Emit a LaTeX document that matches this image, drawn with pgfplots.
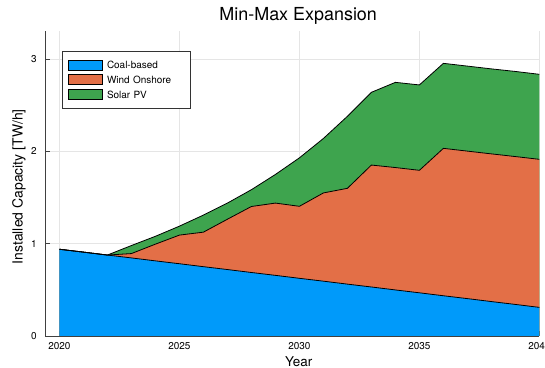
\documentclass[border=0pt]{standalone}
\usepackage{fontspec}
\setmainfont{TeX Gyre Heros}
\usepackage{pgfplots}
\usepackage{pgfplotstable}
\pgfplotsset{compat=1.18}

\definecolor{coalc}{RGB}{0,154,250}
\definecolor{windc}{RGB}{227,111,71}
\definecolor{solarc}{RGB}{62,164,78}

% installed capacity per technology [TW/h]
\pgfplotstableread{
year coal  wind  solar
2020 0.940 0.000 0.000
2021 0.909 0.000 0.000
2022 0.877 0.000 0.000
2023 0.846 0.047 0.087
2024 0.814 0.181 0.085
2025 0.783 0.310 0.097
2026 0.751 0.374 0.185
2027 0.720 0.545 0.175
2028 0.688 0.715 0.182
2029 0.657 0.783 0.310
2030 0.625 0.780 0.525
2031 0.594 0.956 0.590
2032 0.562 1.038 0.780
2033 0.531 1.321 0.788
2034 0.499 1.326 0.923
2035 0.468 1.327 0.925
2036 0.436 1.597 0.921
2037 0.405 1.598 0.921
2038 0.373 1.600 0.921
2039 0.342 1.602 0.922
2040 0.310 1.604 0.921
}\capacity
% stacked tops
\pgfplotstablecreatecol[expr={\thisrow{coal}+\thisrow{wind}}]{windtop}\capacity
\pgfplotstablecreatecol[expr={\thisrow{windtop}+\thisrow{solar}}]{solartop}\capacity

\pgfplotsset{
  layers/chart layers/.define layer set={axis background,axis grid,axis ticks,main,axis lines,axis tick labels,axis descriptions,axis foreground}{},
}

\begin{document}
\begin{tikzpicture}
\begin{axis}[
  set layers=chart layers,
  at={(45bp,32bp)}, anchor=south west,
  scale only axis, width=494.4bp, height=304.6bp,
  xmin=2019.4, xmax=2040, ymin=0, ymax=3.3,
  axis x line=bottom, axis y line=left,
  axis line style={-, draw=black!75, line width=0.8bp},
  xtick={2020,2025,...,2040}, ytick={0,1,2,3},
  tick align=inside, major tick length=5bp,
  tick style={draw=black!75, line width=0.6bp},
  grid=major, major grid style={draw=black!10, line width=0.6bp},
  /pgf/number format/assume math mode=true,
  x tick label style={/pgf/number format/1000 sep={}},
  tick label style={font=\fontsize{10}{12}\selectfont},
  xticklabel style={anchor=base, yshift=-13.3bp},
  yticklabel style={anchor=east, xshift=-4.8bp},
  title={Min-Max Expansion},
  title style={font=\fontsize{18}{21}\selectfont, at={(axis description cs:0.5,1)}, anchor=base, yshift=4.7bp, xshift=6bp},
  xlabel={Year},
  xlabel style={font=\fontsize{13.5}{16}\selectfont, at={(axis description cs:0.513,0)}, anchor=base, yshift=-30bp},
  ylabel={Installed Capacity [TW/h]},
  ylabel style={font=\fontsize{14}{16}\selectfont, at={(axis description cs:-0.0526,0.49)}, anchor=center},
  legend image code/.code={\draw[#1, draw=black, line width=0.6bp] (0bp,-1.4bp) rectangle (34bp,8.6bp);},
  legend style={at={(axis description cs:0.0338,0.9366)}, anchor=north west,
    draw=black!80, line width=0.8bp, font=\fontsize{10}{12}\selectfont,
    inner xsep=5.6bp, inner ysep=8.5bp, row sep=4.2bp, column sep=4.7bp,
    nodes={inner sep=0pt},
    /tikz/column 2/.style={nodes={text width=78bp, anchor=base west}}},
  legend cell align=left,
]
\addlegendimage{fill=coalc}
\addlegendimage{fill=windc}
\addlegendimage{fill=solarc}
\legend{Coal-based, Wind Onshore, Solar PV}

% filled areas, largest first
\addplot[fill=solarc, draw=none, forget plot] table[x=year, y=solartop]{\capacity} \closedcycle;
\addplot[fill=windc, draw=none, forget plot] table[x=year, y=windtop]{\capacity} \closedcycle;
\addplot[fill=coalc, draw=none, forget plot] table[x=year, y=coal]{\capacity} \closedcycle;
% outlines of each layer
\addplot[black, line width=0.8bp, line join=round, forget plot] table[x=year, y=solartop]{\capacity};
\addplot[black, line width=0.8bp, line join=round, forget plot] table[x=year, y=windtop]{\capacity};
\addplot[black, line width=0.8bp, line join=round, forget plot] table[x=year, y=coal]{\capacity};
\end{axis}
\pgfresetboundingbox
\path[use as bounding box] (0,0) rectangle (545bp,368bp);
\end{tikzpicture}
\end{document}
